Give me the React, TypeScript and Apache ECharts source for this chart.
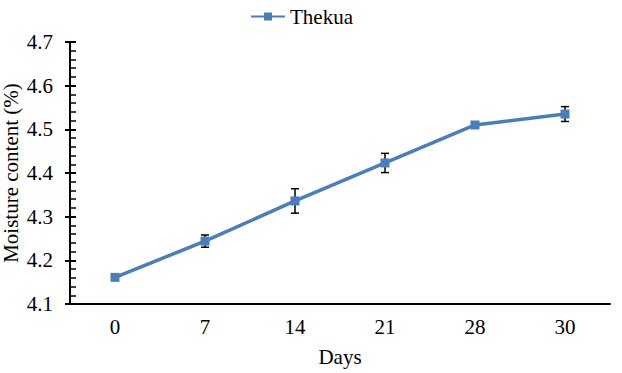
import React, { useEffect, useRef } from "react";
import * as echarts from "echarts";

const days = ["0", "7", "14", "21", "28", "30"];
const moisture = [4.161, 4.244, 4.336, 4.423, 4.51, 4.535];
const errors = [0.006, 0.014, 0.028, 0.022, 0.005, 0.017];
const seriesName = "Thekua";

const FONT = "'Liberation Serif', 'Times New Roman', serif";
const FS = 21;

export default function App() {
  const ref = useRef<HTMLDivElement>(null);
  useEffect(() => {
    const chart = echarts.init(ref.current!, null, { renderer: "svg" });
    const errData = moisture.map((v, i) => [i, v - errors[i], v + errors[i]]);
    chart.setOption({
      animation: false,
      legend: {
        top: 1,
        left: 245,
        itemWidth: 34,
        itemHeight: 10,
        itemGap: 5,
        data: [seriesName],
        textStyle: { fontFamily: FONT, fontSize: FS, color: "#000" },
      },
      grid: { left: 70, right: 12, top: 42, bottom: 69, containLabel: false, outerBoundsMode: "none" },
      xAxis: {
        type: "category",
        data: days,
        boundaryGap: true,
        name: "Days",
        nameLocation: "middle",
        nameGap: 42,
        nameMoveOverlap: false,
        nameTextStyle: { fontFamily: FONT, fontSize: FS, color: "#000" },
        axisLine: { lineStyle: { color: "#000", width: 2 } },
        axisTick: { show: false },
        axisLabel: { fontFamily: FONT, fontSize: FS, color: "#000", margin: 12 },
        splitLine: { show: false },
      },
      yAxis: [
        {
          type: "value",
          min: 4.1,
          max: 4.7,
          interval: 0.1,
          name: "Moisture content (%)",
          nameLocation: "middle",
          nameGap: 49,
          nameMoveOverlap: false,
          nameTextStyle: { fontFamily: FONT, fontSize: FS, color: "#000" },
          axisLine: { show: true, lineStyle: { color: "#000", width: 2 } },
          axisTick: { show: true, inside: true, length: 6, lineStyle: { color: "#000", width: 2 } },
          minorTick: { show: true, splitNumber: 5, length: 6, lineStyle: { color: "#000", width: 1.5 } },
          axisLabel: {
            fontFamily: FONT,
            fontSize: FS,
            color: "#000",
            margin: 17,
            formatter: (v: number) => v.toFixed(1),
          },
          splitLine: { show: false },
        },
        {
          type: "value",
          position: "left",
          min: 4.1,
          max: 4.7,
          interval: 0.1,
          axisLine: { show: false },
          axisTick: { show: true, inside: false, length: 5, lineStyle: { color: "#000", width: 2 } },
          axisLabel: { show: false },
          splitLine: { show: false },
        },
      ],
      series: [
        {
          type: "custom",
          name: "err",
          data: errData,
          z: 2,
          renderItem: (params: any, api: any) => {
            const x = api.value(0);
            const lo = api.coord([x, api.value(1)]);
            const hi = api.coord([x, api.value(2)]);
            const w = 4;
            const style = { stroke: "#000", lineWidth: 1.5 };
            return {
              type: "group",
              children: [
                { type: "line", shape: { x1: lo[0], y1: lo[1], x2: hi[0], y2: hi[1] }, style },
                { type: "line", shape: { x1: lo[0] - w, y1: lo[1], x2: lo[0] + w, y2: lo[1] }, style },
                { type: "line", shape: { x1: hi[0] - w, y1: hi[1], x2: hi[0] + w, y2: hi[1] }, style },
              ],
            };
          },
        },
        {
          name: seriesName,
          type: "line",
          data: moisture,
          symbol: "rect",
          symbolSize: 9,
          lineStyle: { color: "#4a7ebb", width: 3.5 },
          itemStyle: { color: "#4a7ebb" },
          z: 3,
        },
      ],
    });
    return () => chart.dispose();
  }, []);
  return <div ref={ref} style={{ width: 622, height: 373, position: "absolute", left: 0, top: 0 }} />;
}
